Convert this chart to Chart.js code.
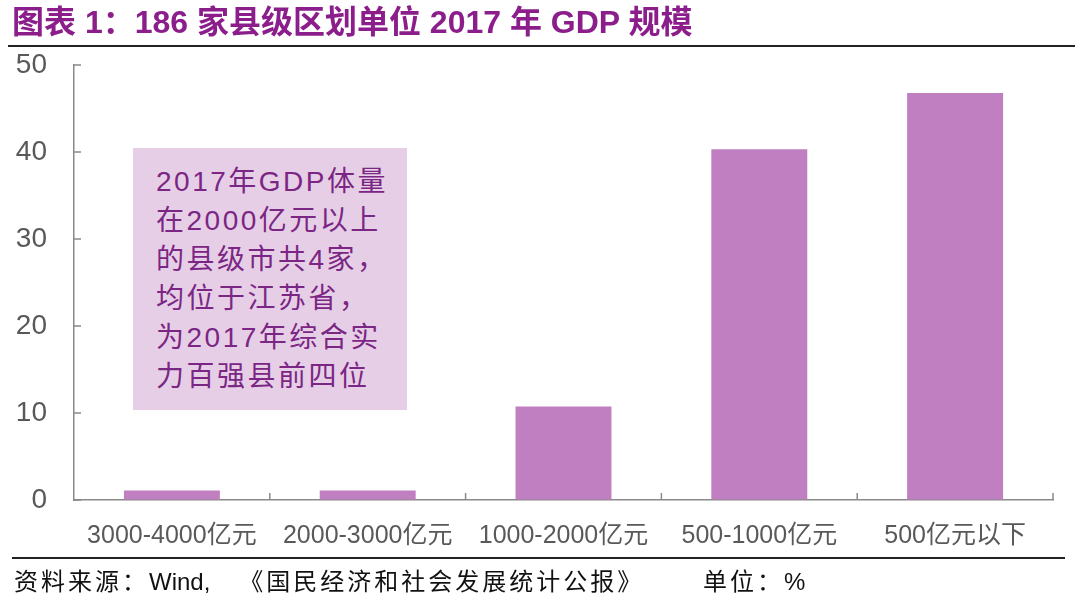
<!DOCTYPE html>
<html>
<head>
<meta charset="utf-8">
<script src="https://cdn.jsdelivr.net/npm/chart.js@4"></script>
<style>
  body { margin: 0; background: #fff; }
  #wrap { position: relative; width: 1080px; height: 607px; overflow: hidden; }
  #chart { position: absolute; left: 0; top: 0; }
  .title {
    position: absolute; left: 12px; top: 4px;
    font: bold 32px 'Liberation Sans', 'Noto Sans CJK SC', sans-serif; line-height: 36px;
    color: #8b1e8b; white-space: nowrap;
  }
  .rule { position: absolute; height: 2px; background: #222; }
  .note {
    position: absolute; left: 133px; top: 148px; width: 274px; height: 262px;
    background: #e6cfe6; color: #7b2684; box-sizing: border-box;
    padding: 14px 0 0 23px; letter-spacing: 2.5px;
    font: 28px 'Liberation Sans', 'Noto Sans CJK SC', sans-serif; line-height: 39px;
  }
  .foot {
    position: absolute; top: 562px; white-space: nowrap; color: #111;
    font: 24px 'Liberation Sans', 'Noto Sans CJK SC', sans-serif; letter-spacing: 3px;
  }
  .foot span { letter-spacing: 0; }
</style>
</head>
<body>
<div id="wrap">
  <canvas id="chart" width="1080" height="607"></canvas>
  <div class="title">图表 1：186 家县级区划单位 2017 年 GDP 规模</div>
  <div class="rule" style="top:45px; left:8px; width:1067px"></div>
  <div class="note" id="note"></div>
  <div class="rule" style="top:557px; left:12px; width:1053px"></div>
  <div class="foot" style="left:14px">资料来源：<span>Wind,</span>&nbsp;&nbsp; 《国民经济和社会发展统计公报》</div>
  <div class="foot" style="left:703px">单位：%</div>
</div>
<script>
const categories = ['3000-4000亿元', '2000-3000亿元', '1000-2000亿元', '500-1000亿元', '500亿元以下'];
const shares = [1.08, 1.08, 10.75, 40.32, 46.77];
const yTicks = [0, 10, 20, 30, 40, 50];
const noteLines = ['2017年GDP体量', '在2000亿元以上', '的县级市共4家，', '均位于江苏省，', '为2017年综合实', '力百强县前四位'];

document.getElementById('note').innerHTML = noteLines.join('<br>');

const fontFamily = "'Liberation Sans', 'Noto Sans CJK SC', sans-serif";
const axisColor = '#898989';

// excel style tick marks pointing into the plot
const innerTicks = {
    id: 'innerTicks',
    afterDatasetsDraw(chart) {
        const ctx = chart.ctx;
        const area = chart.chartArea;
        const x = chart.scales.x;
        const y = chart.scales.y;
        ctx.save();
        ctx.strokeStyle = axisColor;
        ctx.lineWidth = 1.5;
        yTicks.forEach(v => {
            const py = y.getPixelForValue(v);
            ctx.beginPath();
            ctx.moveTo(area.left, py);
            ctx.lineTo(area.left + 7, py);
            ctx.stroke();
        });
        const step = x.getPixelForValue(1) - x.getPixelForValue(0);
        for (let i = 0; i < categories.length; i++) {
            const px = x.getPixelForValue(i) + step / 2;
            ctx.beginPath();
            ctx.moveTo(px, area.bottom);
            ctx.lineTo(px, area.bottom - 7);
            ctx.stroke();
        }
        ctx.restore();
    }
};

new Chart(document.getElementById('chart').getContext('2d'), {
    type: 'bar',
    data: {
        labels: categories,
        datasets: [{
            label: '占比',
            data: shares,
            backgroundColor: '#bf7fc0',
            barPercentage: 0.49,
            categoryPercentage: 1
        }]
    },
    options: {
        responsive: false,
        devicePixelRatio: 1,
        animation: false,
        layout: { padding: { left: 0, top: 65, right: 27, bottom: 0 } },
        plugins: { legend: { display: false }, tooltip: { enabled: false } },
        scales: {
            x: {
                grid: { display: true, drawOnChartArea: false, drawTicks: false },
                border: { color: axisColor, width: 1.5 },
                ticks: { color: '#595959', padding: 21, font: { family: fontFamily, size: 25 } },
                afterFit(scale) { scale.height = 107; }
            },
            y: {
                min: 0,
                max: 50,
                grid: { display: true, drawOnChartArea: false, drawTicks: false },
                border: { color: axisColor, width: 1.5 },
                ticks: { stepSize: 10, color: '#595959', padding: 27, font: { family: fontFamily, size: 28 } },
                afterFit(scale) { scale.width = 74; }
            }
        }
    },
    plugins: [innerTicks]
});
</script>
</body>
</html>
